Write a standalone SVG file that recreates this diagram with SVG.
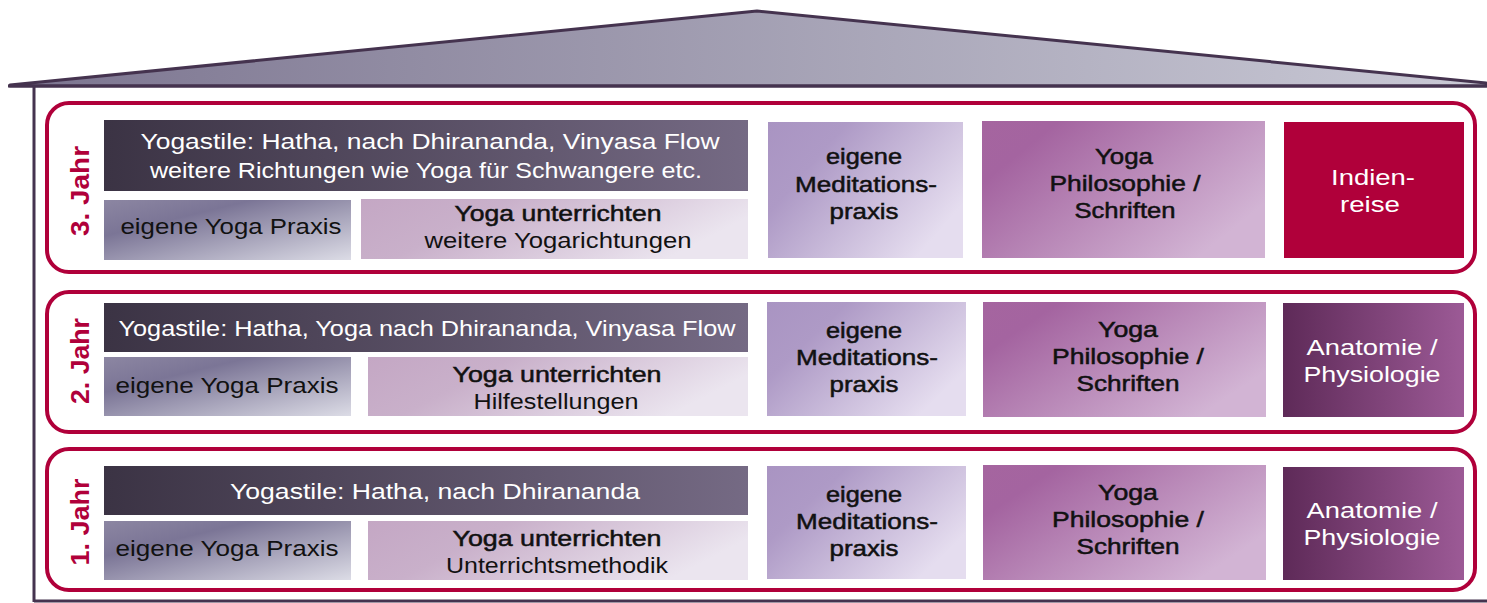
<svg xmlns="http://www.w3.org/2000/svg" width="1487" height="603" viewBox="0 0 1487 603">
<defs>
<linearGradient id="gRoof" x1="0" y1="0" x2="1" y2="0"><stop offset="0" stop-color="#7c7590"/><stop offset="1" stop-color="#cacad6"/></linearGradient>
<linearGradient id="gDark" x1="0" y1="0" x2="1" y2="0"><stop offset="0" stop-color="#3b3344"/><stop offset="1" stop-color="#756a84"/></linearGradient>
<linearGradient id="gPrax" x1="0" y1="0" x2="1" y2="1"><stop offset="0" stop-color="#8c86a2"/><stop offset="0.3" stop-color="#7b7596"/><stop offset="1" stop-color="#dcdce6"/></linearGradient>
<linearGradient id="gTeach" x1="0" y1="0" x2="1" y2="0.3"><stop offset="0" stop-color="#c4a7c4"/><stop offset="0.35" stop-color="#c9b0ca"/><stop offset="1" stop-color="#ebe5ef"/></linearGradient>
<linearGradient id="gMed" x1="0" y1="0" x2="1" y2="0.6"><stop offset="0" stop-color="#a994c2"/><stop offset="0.3" stop-color="#ae9ac6"/><stop offset="1" stop-color="#e5ddef"/></linearGradient>
<linearGradient id="gPhil" x1="0" y1="0" x2="1" y2="0.6"><stop offset="0" stop-color="#a5659f"/><stop offset="0.2" stop-color="#a464a0"/><stop offset="1" stop-color="#d2b4d4"/></linearGradient>
<linearGradient id="gAna" x1="0" y1="0" x2="1" y2="0"><stop offset="0" stop-color="#5e2a58"/><stop offset="1" stop-color="#9c5a96"/></linearGradient>
<style>
text{font-family:"Liberation Sans",Arial,sans-serif;font-size:22px;text-anchor:middle}
.w{fill:#ffffff}
.k{fill:#111111}
.m{stroke:#111111;stroke-width:0.5}
.yr{fill:#b0003a;font-size:26px;font-weight:bold}
.row{fill:none;stroke:#b0003a;stroke-width:4}
.frame{stroke:#45334f;stroke-width:3;fill:none}
</style>
</defs>

<g id="house">
<polygon points="10,85 757,11 1486,83 1486,86 10,86" fill="url(#gRoof)" stroke="#45334f" stroke-width="3" stroke-linejoin="round"/>
<line class="frame" x1="8" y1="86" x2="1487" y2="86"/>
<line class="frame" x1="34" y1="86" x2="34" y2="602"/>
<line class="frame" x1="34" y1="601" x2="1487" y2="601"/>
</g>

<!-- Year 3 -->
<g id="year3">
<rect class="row" x="47" y="103" width="1428" height="169" rx="22"/>
<text class="yr" transform="translate(89,191) rotate(-90)" textLength="90" lengthAdjust="spacingAndGlyphs">3. Jahr</text>
</g>
<g id="y3-stile">
<rect x="104" y="120" width="644" height="71" fill="url(#gDark)"/>
<text class="w" x="430" y="149" textLength="579" lengthAdjust="spacingAndGlyphs">Yogastile: Hatha, nach Dhirananda, Vinyasa Flow</text>
<text class="w" x="426" y="178" textLength="552" lengthAdjust="spacingAndGlyphs">weitere Richtungen wie Yoga für Schwangere etc.</text>
</g>
<g id="y3-praxis">
<rect x="104" y="200" width="247" height="60" fill="url(#gPrax)"/>
<text class="k" x="231" y="234" textLength="221" lengthAdjust="spacingAndGlyphs">eigene Yoga Praxis</text>
</g>
<g id="y3-teach">
<rect x="361" y="199" width="387" height="60" fill="url(#gTeach)"/>
<text class="k m" x="558" y="221" textLength="207" lengthAdjust="spacingAndGlyphs">Yoga unterrichten</text>
<text class="k" x="558" y="248" textLength="267" lengthAdjust="spacingAndGlyphs">weitere Yogarichtungen</text>
</g>
<g id="y3-med">
<rect x="768" y="122" width="195" height="136" fill="url(#gMed)"/>
<text class="k m" x="864" y="164" textLength="76" lengthAdjust="spacingAndGlyphs">eigene</text>
<text class="k m" x="866" y="192" textLength="142" lengthAdjust="spacingAndGlyphs">Meditations-</text>
<text class="k m" x="864" y="219" textLength="69" lengthAdjust="spacingAndGlyphs">praxis</text>
</g>
<g id="y3-phil">
<rect x="982" y="121" width="283" height="137" fill="url(#gPhil)"/>
<text class="k m" x="1124" y="164" textLength="58" lengthAdjust="spacingAndGlyphs">Yoga</text>
<text class="k m" x="1125" y="191" textLength="151" lengthAdjust="spacingAndGlyphs">Philosophie /</text>
<text class="k m" x="1125" y="218" textLength="101" lengthAdjust="spacingAndGlyphs">Schriften</text>
</g>
<g id="y3-indien">
<rect x="1284" y="122" width="180" height="136" fill="#b0003a"/>
<text class="w" x="1373" y="185" textLength="84" lengthAdjust="spacingAndGlyphs">Indien-</text>
<text class="w" x="1370" y="212" textLength="60" lengthAdjust="spacingAndGlyphs">reise</text>
</g>

<!-- Year 2 -->
<g id="year2">
<rect class="row" x="47" y="292" width="1428" height="140" rx="22"/>
<text class="yr" transform="translate(89,361) rotate(-90)" textLength="86" lengthAdjust="spacingAndGlyphs">2. Jahr</text>
</g>
<g id="y2-stile">
<rect x="104" y="303" width="644" height="49" fill="url(#gDark)"/>
<text class="w" x="427" y="336" textLength="617" lengthAdjust="spacingAndGlyphs">Yogastile: Hatha, Yoga nach Dhirananda, Vinyasa Flow</text>
</g>
<g id="y2-praxis">
<rect x="104" y="357" width="247" height="59" fill="url(#gPrax)"/>
<text class="k" x="227" y="393" textLength="223" lengthAdjust="spacingAndGlyphs">eigene Yoga Praxis</text>
</g>
<g id="y2-teach">
<rect x="368" y="357" width="380" height="59" fill="url(#gTeach)"/>
<text class="k m" x="557" y="382" textLength="209" lengthAdjust="spacingAndGlyphs">Yoga unterrichten</text>
<text class="k" x="556" y="409" textLength="165" lengthAdjust="spacingAndGlyphs">Hilfestellungen</text>
</g>
<g id="y2-med">
<rect x="767" y="302" width="199" height="114" fill="url(#gMed)"/>
<text class="k m" x="864" y="338" textLength="76" lengthAdjust="spacingAndGlyphs">eigene</text>
<text class="k m" x="867" y="365" textLength="142" lengthAdjust="spacingAndGlyphs">Meditations-</text>
<text class="k m" x="864" y="392" textLength="69" lengthAdjust="spacingAndGlyphs">praxis</text>
</g>
<g id="y2-phil">
<rect x="983" y="302" width="283" height="115" fill="url(#gPhil)"/>
<text class="k m" x="1128" y="337" textLength="60" lengthAdjust="spacingAndGlyphs">Yoga</text>
<text class="k m" x="1128" y="364" textLength="152" lengthAdjust="spacingAndGlyphs">Philosophie /</text>
<text class="k m" x="1128" y="391" textLength="103" lengthAdjust="spacingAndGlyphs">Schriften</text>
</g>
<g id="y2-ana">
<rect x="1283" y="303" width="181" height="114" fill="url(#gAna)"/>
<text class="w" x="1372" y="355" textLength="131" lengthAdjust="spacingAndGlyphs">Anatomie /</text>
<text class="w" x="1372" y="382" textLength="137" lengthAdjust="spacingAndGlyphs">Physiologie</text>
</g>

<!-- Year 1 -->
<g id="year1">
<rect class="row" x="47" y="449" width="1428" height="141" rx="22"/>
<text class="yr" transform="translate(89,522) rotate(-90)" textLength="87" lengthAdjust="spacingAndGlyphs">1. Jahr</text>
</g>
<g id="y1-stile">
<rect x="104" y="466" width="644" height="49" fill="url(#gDark)"/>
<text class="w" x="435" y="499" textLength="410" lengthAdjust="spacingAndGlyphs">Yogastile: Hatha, nach Dhirananda</text>
</g>
<g id="y1-praxis">
<rect x="104" y="521" width="247" height="59" fill="url(#gPrax)"/>
<text class="k" x="227" y="556" textLength="223" lengthAdjust="spacingAndGlyphs">eigene Yoga Praxis</text>
</g>
<g id="y1-teach">
<rect x="368" y="521" width="380" height="59" fill="url(#gTeach)"/>
<text class="k m" x="557" y="546" textLength="209" lengthAdjust="spacingAndGlyphs">Yoga unterrichten</text>
<text class="k" x="557" y="573" textLength="222" lengthAdjust="spacingAndGlyphs">Unterrichtsmethodik</text>
</g>
<g id="y1-med">
<rect x="767" y="466" width="199" height="113" fill="url(#gMed)"/>
<text class="k m" x="864" y="502" textLength="76" lengthAdjust="spacingAndGlyphs">eigene</text>
<text class="k m" x="867" y="529" textLength="142" lengthAdjust="spacingAndGlyphs">Meditations-</text>
<text class="k m" x="864" y="556" textLength="69" lengthAdjust="spacingAndGlyphs">praxis</text>
</g>
<g id="y1-phil">
<rect x="983" y="465" width="283" height="115" fill="url(#gPhil)"/>
<text class="k m" x="1128" y="500" textLength="60" lengthAdjust="spacingAndGlyphs">Yoga</text>
<text class="k m" x="1128" y="527" textLength="152" lengthAdjust="spacingAndGlyphs">Philosophie /</text>
<text class="k m" x="1128" y="554" textLength="103" lengthAdjust="spacingAndGlyphs">Schriften</text>
</g>
<g id="y1-ana">
<rect x="1283" y="467" width="181" height="113" fill="url(#gAna)"/>
<text class="w" x="1372" y="518" textLength="131" lengthAdjust="spacingAndGlyphs">Anatomie /</text>
<text class="w" x="1372" y="545" textLength="137" lengthAdjust="spacingAndGlyphs">Physiologie</text>
</g>
</svg>
